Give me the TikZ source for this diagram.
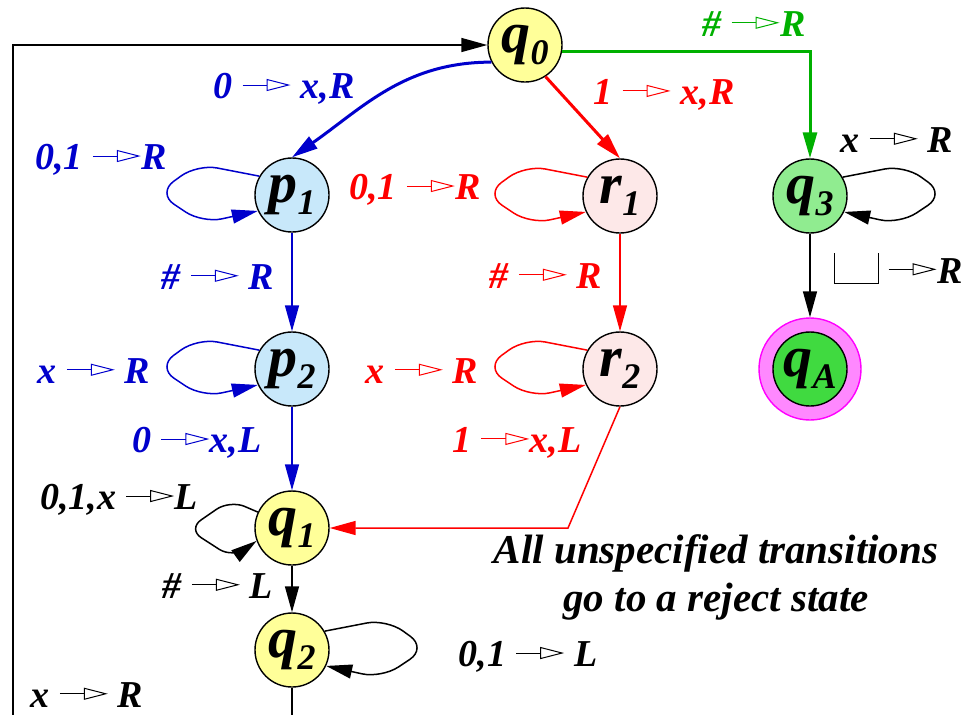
\documentclass[tikz,border=0pt]{standalone}
\usepackage{fontspec}
\setmainfont{Liberation Serif}
\usetikzlibrary{arrows.meta}

\definecolor{stY}{RGB}{255,255,153}
\definecolor{stB}{RGB}{200,232,250}
\definecolor{stR}{RGB}{253,232,232}
\definecolor{stG}{RGB}{144,236,144}
\definecolor{accG}{RGB}{64,218,64}
\definecolor{accRing}{RGB}{255,136,255}
\definecolor{accEdge}{RGB}{255,0,255}
\definecolor{tmBlue}{RGB}{0,0,204}
\definecolor{tmRed}{RGB}{255,0,0}
\definecolor{tmGreen}{RGB}{0,176,0}

\newcommand{\tto}{\tikz[baseline=-0.36em]\draw[line width=0.5pt,-{Triangle[open,length=12pt,width=6pt]}] (0,0) -- (24pt,0);}
\newcommand{\blank}{\tikz[baseline=0pt]\draw[line width=0.5pt] (0,15pt) |- (22pt,0) -- (22pt,15pt);}
\newcommand{\st}[2]{#1\raisebox{-6pt}{\fontsize{18}{18}\selectfont #2}}

\begin{document}
\begin{tikzpicture}[x=0.5pt,y=-0.5pt,
  state/.style={circle,draw,line width=0.7pt,minimum size=37pt,inner sep=0pt,
    font=\fontsize{29}{29}\selectfont\bfseries\itshape},
  acc/.style={circle,draw=accEdge,fill=accRing,line width=0.7pt,minimum size=51pt,inner sep=0pt},
  lbl/.style={font=\fontsize{19}{21}\selectfont\bfseries\itshape},
  >={Triangle[length=13pt,width=7pt]},
  blueline/.style={draw=tmBlue,line width=0.75pt},
  redline/.style={draw=tmRed,line width=0.75pt},
  greenline/.style={draw=tmGreen,line width=0.75pt},
  blackline/.style={draw=black,line width=0.75pt},
  heavy/.style={line width=1.5pt}]

\useasboundingbox (0,0) rectangle (970,714);

\node[state,fill=stY] (q0) at (525,45) {\st{q}{0}};
\node[state,fill=stB] (p1) at (292,195) {\st{p}{1}};
\node[state,fill=stR] (r1) at (620,196) {\st{r}{1}};
\node[state,fill=stG] (q3) at (810,196) {\st{q}{3}};
\node[state,fill=stB] (p2) at (292,369) {\st{p}{2}};
\node[state,fill=stR] (r2) at (620,369) {\st{r}{2}};
\node[acc] (qA) at (810,369) {};
\node[state,fill=accG] (qAin) at (qA) {\st{q}{A}};
\node[state,fill=stY] (q1) at (292,528) {\st{q}{1}};
\node[state,fill=stY] (q2) at (292,650) {\st{q}{2}};

\coordinate (bend) at (568,528);
\coordinate (low) at (13,760);

\draw[blueline,heavy,->] (q0.207) to[out=180,in=35] (p1.north);
\draw[redline,heavy,->] (q0.-57) -- (r1.north);
\draw[greenline,heavy,->] (q0.-10) -| (q3.north);
\draw[blueline,->] (p1) -- (p2);
\draw[redline,->] (r1) -- (r2);
\draw[blackline,->] (q3) -- (qA);
\draw[blueline,->] (p2) -- (q1);
\draw[redline,->] (r2.south) -- (bend) -- (q1.east);
\draw[blackline,->] (q1) -- (q2);
\draw[blackline,->] (q2.south) |- (low) |- (q0.west);

\draw[blueline,->,rounded corners=10pt] (p1.150) -- ++(-62,-12) -- ++(-40,29) -- ++(45,30) -- (p1.205);
\draw[redline,->,rounded corners=10pt] (r1.150) -- ++(-62,-12) -- ++(-40,29) -- ++(45,30) -- (r1.205);
\draw[blueline,->,rounded corners=10pt] (p2.150) -- ++(-62,-12) -- ++(-40,29) -- ++(45,30) -- (p2.205);
\draw[redline,->,rounded corners=10pt] (r2.150) -- ++(-62,-12) -- ++(-40,29) -- ++(45,30) -- (r2.205);
\draw[blackline,->,rounded corners=10pt] (q3.30) -- ++(62,-12) -- ++(40,29) -- ++(-45,30) -- (q3.-25);
\draw[blackline,->,rounded corners=10pt] (q2.30) -- ++(62,-12) -- ++(40,29) -- ++(-45,30) -- (q2.-25);
\draw[blackline,->,rounded corners=8pt] (q1.155) -- ++(-28,-12) -- ++(-42,29) -- ++(45,29) -- (q1.200);

\node[lbl,text=tmBlue] (lq0p1) at (284,89) {0 \tto{} x,R};
\node[lbl,text=tmRed] (lq0r1) at (664,95) {1 \tto{} x,R};
\node[lbl,text=tmGreen] (lq0q3) at (754,24) {\# \tto R};
\node[lbl,text=tmBlue] (lp1) at (101,160) {0,1 \tto R};
\node[lbl,text=tmRed] (lr1) at (415,190) {0,1 \tto R};
\node[lbl] (lq3) at (897,140) {x \tto{} R};
\node[lbl,text=tmBlue] (lp1p2) at (218,277) {\# \tto{} R};
\node[lbl,text=tmRed] (lr1r2) at (546,276) {\# \tto{} R};
\node[lbl] (lq3qA) at (898,268) {\blank{} \tto R};
\node[lbl,text=tmBlue] (lp2) at (94,371) {x \tto{} R};
\node[lbl,text=tmRed] (lr2) at (422,371) {x \tto{} R};
\node[lbl,text=tmBlue] (lp2q1) at (197,443) {0 \tto x,L};
\node[lbl,text=tmRed] (lr2q1) at (517,443) {1 \tto x,L};
\node[lbl] (lq1) at (119,500) {0,1,x \tto L};
\node[lbl] (lq1q2) at (218,586) {\# \tto{} L};
\node[lbl] (lq2) at (528,657) {0,1 \tto{} L};
\node[lbl] (lq2q0) at (87,695) {x \tto{} R};
\node[lbl,font=\fontsize{20.5}{24}\selectfont\bfseries\itshape,align=center] (note) at (716,577)
  {All unspecified transitions\\go to a reject state};
\end{tikzpicture}
\end{document}
